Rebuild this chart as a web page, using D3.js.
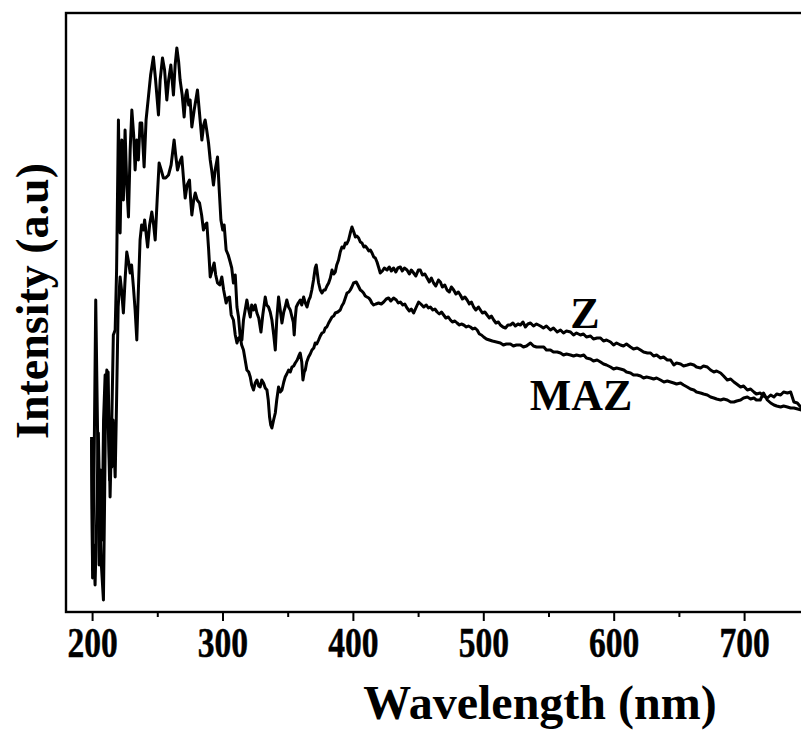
<!DOCTYPE html>
<html>
<head>
<meta charset="utf-8">
<script src="https://cdn.jsdelivr.net/npm/d3@7"></script>
<style>
  html, body { margin: 0; padding: 0; background: #fff; overflow: hidden; }
  svg { display: block; }
  text { font-family: "Liberation Serif", "Times New Roman", serif; font-weight: bold; fill: #000; }
</style>
</head>
<body>
<svg id="chart" width="801" height="735"></svg>
<script>
// Photoluminescence spectra (arbitrary units) of samples Z and MAZ
const zWavelength = [199.6,200.4,201.5,202.8,204.2,205.4,206.5,207.7,208.8,210.0,211.1,212.3,213.8,215.0,216.3,217.7,218.8,220.2,221.5,222.8,224.0,225.3,226.6,227.9,229.2,230.5,231.9,233.0,234.3,235.5,236.8,238.1,239.9,241.4,243.2,244.9,247.0,248.7,250.9,252.2,254.0,255.6,257.3,258.7,260.4,261.4,262.4,263.7,265.0,266.4,267.5,269.1,270.6,271.8,272.7,274.1,275.2,276.5,278.3,280.8,282.5,284.2,285.6,286.7,287.9,289.3,290.6,291.7,293.1,294.4,296.2,297.5,298.8,300.2,301.3,302.8,304.4,305.9,307.1,308.4,309.8,311.1,312.3,313.6,314.9,316.1,317.4,318.7,320.1,321.3,322.4,323.8,325.1,326.4,327.8,329.5,330.9,332.8,333.9,335.3,336.6,337.9,339.3,340.5,341.6,343.0,344.3,345.6,347.0,348.1,349.3,350.7,352.0,353.3,354.3,355.0,355.8,356.6,358.1,359.6,360.8,362.2,363.5,364.8,366.2,367.3,368.5,369.8,371.1,371.9,372.9,373.7,375.0,376.3,377.7,378.8,380.1,381.4,382.7,384.0,385.3,386.5,387.6,389.0,390.3,391.6,393.0,394.2,395.3,396.7,398.0,399.3,400.7,401.9,403.0,404.4,405.7,407.0,408.4,409.5,410.8,412.2,413.4,414.7,416.0,417.2,418.5,419.9,421.0,422.6,424.1,426.2,427.9,429.5,431.2,432.9,434.5,436.4,437.9,439.5,441.5,443.3,444.8,446.6,448.3,450.2,451.7,453.3,455.2,456.9,458.6,460.2,461.9,463.6,465.6,467.1,468.6,470.5,472.2,474.0,475.5,477.3,479.0,480.9,482.4,484.0,485.9,487.6,489.3,490.9,492.6,494.3,496.3,497.8,499.3,501.2,502.9,504.7,506.2,508.0,509.7,511.6,513.1,515.1,517.0,518.9,520.8,522.7,524.6,526.6,528.5,530.4,532.3,534.2,536.2,538.5,540.8,543.8,546.1,548.4,551.5,553.8,556.7,559.2,561.5,563.8,566.9,569.2,571.5,574.5,576.8,579.1,582.2,584.5,587.3,589.9,592.2,594.5,597.6,599.9,602.2,605.2,607.5,609.8,612.9,615.2,618.0,620.6,622.9,625.9,628.3,630.6,632.9,635.9,638.2,641.1,643.6,646.1,648.2,651.3,653.6,656.4,658.9,661.5,663.5,666.6,668.9,671.8,674.3,676.8,678.9,682.0,684.3,687.1,689.7,692.2,694.3,697.3,699.6,702.5,705.0,707.5,709.4,712.4,714.7,717.8,720.4,722.9,725.0,728.0,730.3,733.2,735.7,738.2,740.8,744.1,748.0];
const zIntensity = [175,34,142,312,182,47,142,72,192,237,217,240,115,182,277,282,342,492,379,472,412,482,427,395,462,502,477,442,472,452,489,489,445,492,515,537,555,532,497,532,554,542,512,532,547,532,517,547,564,550,532,517,495,517,522,507,512,485,502,522,497,472,487,492,482,469,452,442,427,442,455,422,392,382,387,362,357,350,344,329,337,305,295,275,272,292,302,312,302,295,307,302,307,299,294,280,297,315,307,305,300,292,277,262,292,315,302,289,300,305,312,305,302,295,290,277,294,305,309,312,307,315,309,305,312,315,322,332,344,347,337,329,322,319,322,322,326,329,334,342,338,340,347,352,360,365,364,369,368,372,379,385,380,375,376,374,370,369,365,366,364,361,362,359,355,354,350,344,339,341,344,342,345,341,344,340,344,345,341,344,342,338,342,339,336,342,342,337,338,334,330,334,329,326,332,330,325,327,322,320,325,322,318,320,317,313,315,312,308,310,305,302,305,302,299,300,297,294,296,292,289,290,287,285,284,287,287,289,286,288,287,290,285,288,289,286,288,286,284,286,282,284,280,282,279,281,280,277,279,277,278,275,276,273,274,274,271,272,270,267,269,267,266,268,265,263,264,262,260,259,259,256,257,254,255,252,252,247,249,248,246,247,248,247,245,244,246,245,242,240,241,239,236,232,233,230,228,225,226,222,223,220,218,219,216,214,217,215,218,217,220,219,220,210,209,204,201];

const mazWavelength = [199.6,200.4,201.2,202.3,203.5,204.8,205.8,206.9,208.7,209.6,210.4,211.3,212.3,213.4,214.2,215.1,216.1,217.7,218.8,220.0,221.5,222.6,224.0,225.3,226.6,228.0,229.2,230.3,231.7,233.0,234.3,235.5,236.8,238.0,239.4,240.3,242.0,242.6,244.1,245.8,247.2,248.4,249.9,251.4,253.0,254.7,256.4,258.6,260.6,262.9,264.1,265.5,267.2,268.8,270.2,271.4,272.9,274.7,275.6,276.5,277.9,279.1,280.6,282.4,284.0,285.4,286.7,288.0,289.4,290.6,292.1,293.6,294.8,296.2,297.9,299.5,300.9,302.8,304.0,305.4,306.7,308.4,309.8,311.1,312.4,313.6,314.7,316.1,317.4,318.7,320.1,321.3,322.4,323.8,325.1,326.4,327.8,328.9,330.1,331.5,332.8,334.1,335.1,336.1,337.0,337.9,339.2,340.5,341.6,343.0,344.3,345.6,347.0,348.1,349.3,350.7,352.0,353.3,354.6,355.8,357.3,358.5,359.6,360.8,361.7,362.7,363.5,364.6,366.0,367.3,368.6,370.0,371.1,372.3,373.7,375.0,376.3,377.7,378.8,380.0,381.4,382.7,384.0,385.3,386.5,388.4,390.3,391.5,392.9,394.2,395.5,396.9,398.0,399.2,400.5,402.6,404.2,405.7,406.8,408.2,409.5,410.8,412.2,413.4,414.5,415.9,417.6,419.7,421.8,423.6,425.6,427.4,429.1,431.2,433.3,434.8,436.4,438.3,439.8,441.5,443.3,444.8,446.6,448.3,450.4,452.1,454.3,456.3,457.9,459.4,461.3,462.9,464.6,466.3,467.9,469.6,471.3,473.2,474.8,476.3,478.2,479.9,481.7,483.2,485.0,487.0,488.6,490.1,492.0,493.6,495.3,497.0,498.6,500.3,502.4,504.7,507.0,510.1,513.1,515.4,517.7,520.8,523.1,525.4,528.5,530.8,533.1,536.2,538.5,540.8,543.8,546.4,548.4,551.5,553.8,556.7,559.2,561.5,563.8,566.9,569.2,571.5,574.5,577.1,579.1,582.2,584.5,587.3,589.9,592.2,594.5,597.6,599.9,602.2,605.2,607.8,609.8,612.9,615.2,618.0,620.6,622.9,625.2,628.3,630.6,632.9,635.9,638.5,641.1,643.6,646.1,648.2,651.3,653.6,656.4,658.9,661.5,663.5,666.6,668.9,671.8,674.3,676.8,678.9,682.0,684.3,687.1,689.7,692.2,694.3,697.3,699.6,702.5,705.0,707.5,709.4,712.4,714.9,717.8,720.4,722.9,725.0,728.0,730.3,733.2,735.7,738.2,741.1,744.1,748.0];
const mazIntensity = [172,42,67,27,92,179,112,52,12,112,219,242,192,132,152,145,192,135,212,305,335,322,299,332,360,350,339,347,325,302,272,322,372,387,382,392,372,365,387,400,387,372,412,449,442,434,434,437,447,472,457,442,450,455,432,414,427,432,412,397,412,419,412,409,397,382,387,389,362,335,342,349,337,329,327,335,322,309,314,315,297,292,277,269,274,275,267,262,252,242,240,235,227,222,229,232,226,225,232,229,224,222,212,195,187,184,192,199,212,225,220,222,230,235,238,242,240,245,246,249,252,256,259,250,232,240,242,250,255,258,262,264,269,268,272,276,279,280,284,285,289,292,295,296,299,300,302,306,309,314,319,320,322,325,329,330,326,322,321,319,316,315,314,312,309,307,308,309,308,310,313,314,311,314,312,309,310,307,308,304,301,303,299,304,310,308,305,307,304,305,302,303,300,298,300,297,294,295,292,290,291,289,287,288,287,285,286,285,283,284,282,278,277,275,273,272,271,270,269,267,268,268,266,267,267,265,266,269,266,265,265,265,262,262,260,260,259,257,258,257,256,257,256,257,254,253,251,252,250,248,247,245,243,244,243,242,240,239,237,237,236,234,235,234,233,234,232,230,231,230,229,228,229,227,225,223,222,220,219,218,217,215,214,213,212,213,212,210,210,211,212,214,215,213,214,212,212,219,212,209,207,206,205,206,205,204,204,203,202,200];

const xTicks = [200, 300, 400, 500, 600, 700];
const xMinorTicks = [250, 350, 450, 550, 650, 750];
const seriesNames = ["Z", "MAZ"];

const svg = d3.select("#chart");
const margin = { left: 66, top: 13, bottom: 612 };

// x runs on past the right side of the page, so the frame's right edge is off view
const x = d3.scaleLinear().domain([180, 800]).range([margin.left, 874.5]);
const y = d3.scaleLinear().domain([0, 600]).range([margin.bottom, 12]);

const series = [
  { name: seriesNames[0], w: zWavelength, v: zIntensity },
  { name: seriesNames[1], w: mazWavelength, v: mazIntensity }
];

svg.append("defs").append("clipPath").attr("id", "plot-clip")
  .append("rect")
  .attr("x", margin.left).attr("y", margin.top)
  .attr("width", x.range()[1] - margin.left).attr("height", margin.bottom - margin.top);

const line = d3.line()
  .x(d => x(d[0]))
  .y(d => y(d[1]))
  .curve(d3.curveLinear);

const plot = svg.append("g").attr("clip-path", "url(#plot-clip)");
series.forEach(s => {
  const pts = s.w.map((w, i) => [w, s.v[i]]);
  plot.append("path")
    .datum(pts)
    .attr("fill", "none")
    .attr("stroke", "#000")
    .attr("stroke-width", 3)
    .attr("stroke-linejoin", "round")
    .attr("d", line);
});

// bottom axis: major ticks labelled, minor ticks between
const xAxis = d3.axisBottom(x).tickValues(xTicks).tickSize(9).tickSizeOuter(0).tickFormat(d3.format("d")).tickPadding(5);
const gx = svg.append("g").attr("transform", `translate(0,${margin.bottom})`).call(xAxis);
gx.select(".domain").remove();
gx.selectAll(".tick line").attr("stroke", "#000").attr("stroke-width", 2);
gx.selectAll(".tick text")
  .attr("font-size", 43)
  .attr("font-family", "Liberation Serif, Times New Roman, serif")
  .attr("font-weight", "bold")
  .attr("fill", "#000")
  .attr("stroke", "#000")
  .attr("stroke-width", 0.5)
  .attr("transform", "scale(0.78,1)");

const xMinor = d3.axisBottom(x).tickValues(xMinorTicks).tickSize(5).tickFormat("");
const gxm = svg.append("g").attr("transform", `translate(0,${margin.bottom})`).call(xMinor);
gxm.select(".domain").remove();
gxm.selectAll(".tick line").attr("stroke", "#000").attr("stroke-width", 2);

// frame
svg.append("rect")
  .attr("x", margin.left).attr("y", margin.top)
  .attr("width", x.range()[1] - margin.left).attr("height", margin.bottom - margin.top)
  .attr("fill", "none").attr("stroke", "#000").attr("stroke-width", 2.4);

// axis titles
svg.append("text")
  .attr("x", 540).attr("y", 719)
  .attr("text-anchor", "middle")
  .attr("font-size", 48)
  .text("Wavelength (nm)");

svg.append("text")
  .attr("transform", "translate(48,301) rotate(-90)")
  .attr("text-anchor", "middle")
  .attr("font-size", 46)
  .text("Intensity (a.u)");

// series labels
svg.append("text").attr("x", 585).attr("y", 328).attr("text-anchor", "middle")
  .attr("font-size", 44).text(seriesNames[0]);
svg.append("text").attr("x", 581).attr("y", 410).attr("text-anchor", "middle")
  .attr("font-size", 44).text(seriesNames[1]);
</script>
</body>
</html>
